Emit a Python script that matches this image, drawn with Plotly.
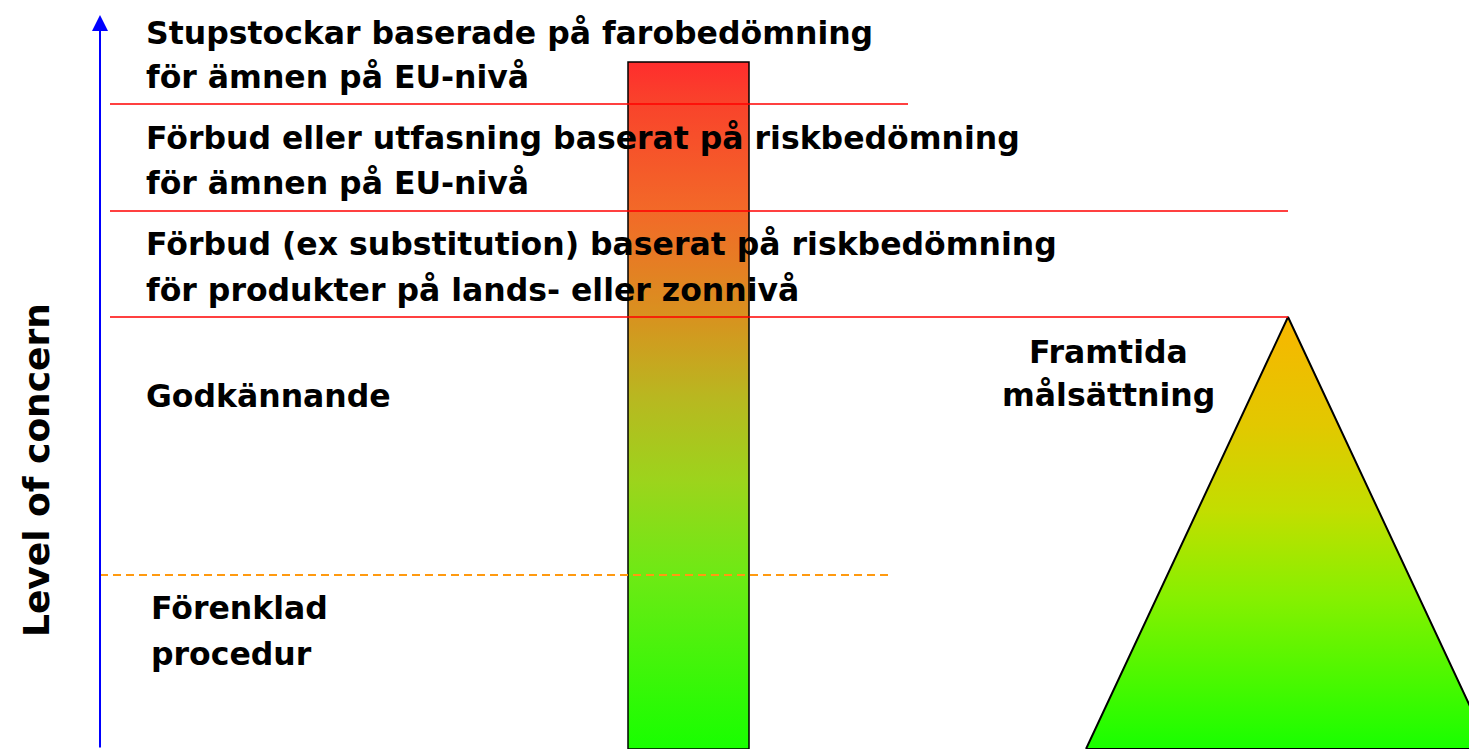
import plotly.graph_objects as go

# Canvas coordinates: x from left, y = level of concern (0 at bottom)
W, H = 1477, 749
PAGE_MARGIN = 8  # default body margin of the html page

# Threshold levels (red solid lines) and their right ends
band_levels = [645, 538, 432]
band_x_end = [908, 1288, 1288]
line_x_start = 110

# Simplified-procedure threshold (orange dashed)
simple_level = 174
simple_x_end = 890

# Band labels (two lines each), centre y levels
band_label_lines = [
    ("Stupstockar baserade på farobedömning", 716),
    ("för ämnen på EU-nivå", 672),
    ("Förbud eller utfasning baserat på riskbedömning", 611),
    ("för ämnen på EU-nivå", 566),
    ("Förbud (ex substitution) baserat på riskbedömning", 505),
    ("för produkter på lands- eller zonnivå", 459),
    ("Godkännande", 353),
]
label_x = 144

simple_labels = [("Förenklad", 141), ("procedur", 95)]
simple_label_x = 149

goal_labels = [("Framtida", 397), ("målsättning", 354)]
goal_label_x = 1108

# Concern bar
bar_x = [628, 749]
bar_top = 687
bar_colors = [[0.0, "#18FF00"], [0.25, "#6CEA14"], [0.39, "#9CD41C"],
              [0.51, "#B8B820"], [0.63, "#D8921F"], [0.78, "#F26A28"],
              [0.94, "#F9432B"], [1.0, "#FF2D2D"]]

# Future-goal triangle
tri_apex = (1288, 432)
tri_base = [1086, 1490]
tri_colors = [[0.0, "#18FF00"], [0.35, "#86F000"], [0.55, "#C2DE00"],
              [0.75, "#E2C800"], [1.0, "#F8B600"]]

axis_x = 100
axis_top = 734

FONT = "Comic Sans MS, DejaVu Sans, sans-serif"
FS = 31.5

fig = go.Figure()

# bar
fig.add_trace(go.Scatter(
    x=[bar_x[0], bar_x[1], bar_x[1], bar_x[0], bar_x[0]],
    y=[0, 0, bar_top, bar_top, 0],
    mode="lines", fill="toself",
    line=dict(color="black", width=1.5),
    fillgradient=dict(type="vertical", colorscale=bar_colors),
    hoverinfo="skip", showlegend=False))

# triangle
fig.add_trace(go.Scatter(
    x=[tri_base[0], tri_apex[0], tri_base[1], tri_base[0]],
    y=[0, tri_apex[1], 0, 0],
    mode="lines", fill="toself",
    line=dict(color="black", width=2),
    fillgradient=dict(type="vertical", colorscale=tri_colors),
    hoverinfo="skip", showlegend=False))

# red band lines
for lvl, xe in zip(band_levels, band_x_end):
    fig.add_trace(go.Scatter(x=[line_x_start, xe], y=[lvl, lvl], mode="lines",
                             line=dict(color="#FF0000", width=1.5),
                             hoverinfo="skip", showlegend=False))

# orange dashed
fig.add_trace(go.Scatter(x=[axis_x, simple_x_end], y=[simple_level, simple_level],
                         mode="lines",
                         line=dict(color="#FF9A10", width=1.8, dash="8px,5px"),
                         hoverinfo="skip", showlegend=False))

# axis arrow
fig.add_annotation(x=axis_x, y=axis_top, ax=axis_x, ay=0, xref="x", yref="y",
                   axref="x", ayref="y", showarrow=True, arrowhead=2,
                   arrowsize=1.6, arrowwidth=2, arrowcolor="#0000FF", text="")

font = dict(family=FONT, size=FS, color="black", weight="bold")

for txt, y in band_label_lines:
    fig.add_annotation(x=label_x, y=y, text=txt, showarrow=False,
                       xanchor="left", yanchor="middle", font=font)
for txt, y in simple_labels:
    fig.add_annotation(x=simple_label_x, y=y, text=txt, showarrow=False,
                       xanchor="left", yanchor="middle", font=font)
for txt, y in goal_labels:
    fig.add_annotation(x=goal_label_x, y=y, text=txt, showarrow=False,
                       xanchor="center", yanchor="middle", font=font)

fig.add_annotation(x=36, y=279, text="Level of concern", showarrow=False,
                   textangle=-90, xanchor="center", yanchor="middle",
                   font=dict(family=FONT, size=36, color="black", weight="bold"))

fig.update_xaxes(range=[PAGE_MARGIN, W], visible=False, fixedrange=True)
fig.update_yaxes(range=[0, H - PAGE_MARGIN], visible=False, fixedrange=True)
fig.update_layout(width=W - PAGE_MARGIN, height=H - PAGE_MARGIN,
                  margin=dict(l=0, r=0, t=0, b=0),
                  plot_bgcolor="white", paper_bgcolor="white", showlegend=False)

fig.write_html("out.html")
